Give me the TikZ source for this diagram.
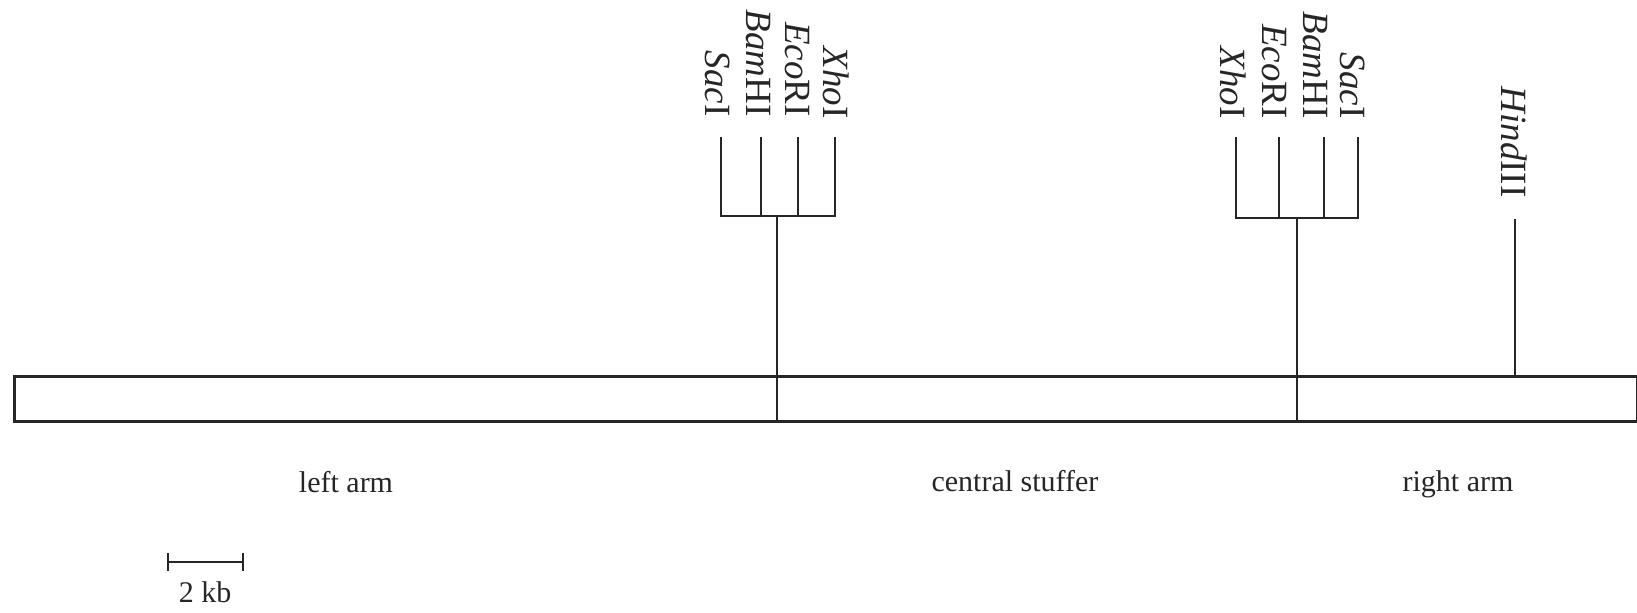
\documentclass[tikz,border=0pt]{standalone}
\usepackage{fontspec}
\setmainfont{Liberation Serif}
\begin{document}
\begin{tikzpicture}[x=0.5pt,y=-0.5pt,
  site/.style={rotate=-90,anchor=east,inner sep=0pt,text=black!85,
    font=\fontsize{18.5}{18.5}\selectfont},
  region/.style={anchor=base,inner sep=0pt,text=black!85,
    font=\fontsize{15}{15}\selectfont},
  wire/.style={line width=1.1pt,black!85},
  vector/.style={draw=black!85,line width=1.6pt,minimum width=811.5pt,
    minimum height=22.5pt,inner sep=0pt,anchor=north west}]
\useasboundingbox (0,0) rectangle (1637,613);

% lambda vector
\node[vector] (bar) at (13,375) {};

% left cloning cluster
\node[site] (sacL) at (718,117) {\textit{Sac}I};
\node[site] (bamL) at (758,117) {\textit{Bam}HI};
\node[site] (ecoL) at (797,117) {\textit{Eco}RI};
\node[site] (xhoL) at (836,119) {\textit{Xho}I};
\coordinate (sacLt) at (721,137);
\coordinate (bamLt) at (761,137);
\coordinate (ecoLt) at (798,137);
\coordinate (xhoLt) at (835,137);
\coordinate (jL) at (777,216);
\draw[wire] (sacLt) -- (sacLt |- jL) -- (xhoLt |- jL) -- (xhoLt);
\draw[wire] (bamLt) -- (bamLt |- jL);
\draw[wire] (ecoLt) -- (ecoLt |- jL);
\draw[wire] (jL) -- (jL |- bar.south);

% right cloning cluster
\node[site] (xhoR) at (1233,119) {\textit{Xho}I};
\node[site] (ecoR) at (1274,119) {\textit{Eco}RI};
\node[site] (bamR) at (1315,119) {\textit{Bam}HI};
\node[site] (sacR) at (1353,119) {\textit{Sac}I};
\coordinate (xhoRt) at (1236,137);
\coordinate (ecoRt) at (1279,137);
\coordinate (bamRt) at (1324,137);
\coordinate (sacRt) at (1358,137);
\coordinate (jR) at (1297,218);
\draw[wire] (xhoRt) -- (xhoRt |- jR) -- (sacRt |- jR) -- (sacRt);
\draw[wire] (ecoRt) -- (ecoRt |- jR);
\draw[wire] (bamRt) -- (bamRt |- jR);
\draw[wire] (jR) -- (jR |- bar.south);

% HindIII site
\node[site] (hind) at (1514,198) {\textit{Hind}III};
\coordinate (hindt) at (1515,219);
\draw[wire] (hindt) -- (hindt |- bar.north);

% regions
\node[region] (left) at (346,493) {left arm};
\node[region] (stuffer) at (1015,492) {central stuffer};
\node[region] (right) at (1458,492) {right arm};

% scale bar
\coordinate (sbL) at (168,562);
\coordinate (sbR) at (243,562);
\draw[wire] (sbL) -- (sbR);
\draw[wire] ([yshift=4.5pt]sbL) -- ([yshift=-4.5pt]sbL);
\draw[wire] ([yshift=4.5pt]sbR) -- ([yshift=-4.5pt]sbR);
\node[region] (scale) at (205,603) {2 kb};
\end{tikzpicture}
\end{document}
